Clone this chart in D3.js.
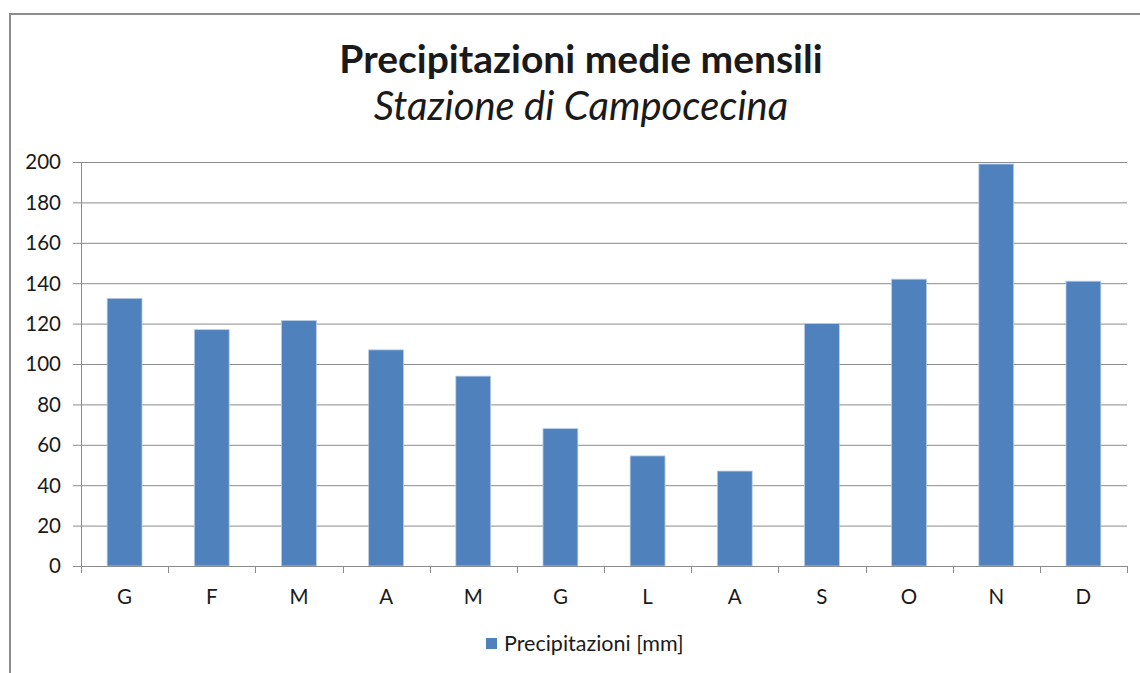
<!DOCTYPE html>
<html>
<head>
<meta charset="utf-8">
<script src="https://cdn.jsdelivr.net/npm/d3@7"></script>
<style>
  body { margin: 0; background: #fff; }
  text { font-family: Lato, "Open Sans", sans-serif; fill: #1a1a1a; }
</style>
</head>
<body>
<div id="chart"></div>
<script>
// months (Italian initials) and mean monthly rainfall in mm
const months = ["G", "F", "M", "A", "M", "G", "L", "A", "S", "O", "N", "D"]
const rain = [132.5, 117, 121.5, 107, 94, 68, 54.5, 47, 120, 142, 199, 141]
const yTicks = [0, 20, 40, 60, 80, 100, 120, 140, 160, 180, 200]
const seriesName = "Precipitazioni [mm]"

const width = 1140
const height = 673
const plotLeft = 81, plotRight = 1127, plotTop = 162, plotBottom = 566

const svg = d3.select("#chart").append("svg")
    .attr("width", width)
    .attr("height", height)

// outer chart frame (runs off the right/bottom edge like the original)
svg.append("rect")
    .attr("x", 10).attr("y", 14)
    .attr("width", 1200).attr("height", 700)
    .attr("fill", "none")
    .attr("stroke", "#8c8c8c")
    .attr("stroke-width", 2)

// index based band scale since month letters repeat
const x = d3.scaleBand()
    .domain(d3.range(months.length))
    .range([plotLeft, plotRight])
    .paddingInner(0.6)
    .paddingOuter(0.3)

const y = d3.scaleLinear()
    .domain([0, 200])
    .range([plotBottom, plotTop])

// gridlines
svg.append("g")
    .selectAll("line")
    .data(yTicks)
    .join("line")
    .attr("x1", plotLeft - 8).attr("x2", plotRight)
    .attr("y1", d => y(d) + 0.5).attr("y2", d => y(d) + 0.5)
    .attr("stroke", "#8c8c8c")

// y axis labels
svg.append("g")
    .selectAll("text")
    .data(yTicks)
    .join("text")
    .attr("x", plotLeft - 20)
    .attr("y", d => y(d))
    .attr("dy", "0.36em")
    .attr("text-anchor", "end")
    .attr("font-size", 20.5)
    .text(d => d)

// y axis line
svg.append("line")
    .attr("x1", plotLeft + 0.5).attr("x2", plotLeft + 0.5)
    .attr("y1", plotTop).attr("y2", plotBottom)
    .attr("stroke", "#8c8c8c")

// bars
svg.append("g")
    .selectAll("rect")
    .data(rain)
    .join("rect")
    .attr("x", (d, i) => x(i))
    .attr("y", d => y(d))
    .attr("width", x.bandwidth())
    .attr("height", d => y(0) - y(d))
    .attr("fill", "#4f81bd")
    .attr("stroke", "#b9cde5")
    .attr("stroke-width", 0.8)

// x axis line and tick marks between categories
const step = x.step()
svg.append("line")
    .attr("x1", plotLeft).attr("x2", plotRight)
    .attr("y1", plotBottom + 0.5).attr("y2", plotBottom + 0.5)
    .attr("stroke", "#8c8c8c")

svg.append("g")
    .selectAll("line")
    .data(d3.range(months.length + 1))
    .join("line")
    .attr("x1", i => Math.round(plotLeft + i * step) + 0.5)
    .attr("x2", i => Math.round(plotLeft + i * step) + 0.5)
    .attr("y1", plotBottom).attr("y2", plotBottom + 7)
    .attr("stroke", "#8c8c8c")

svg.append("g")
    .selectAll("text")
    .data(months)
    .join("text")
    .attr("x", (d, i) => x(i) + x.bandwidth() / 2)
    .attr("y", 604)
    .attr("text-anchor", "middle")
    .attr("font-size", 20.5)
    .text(d => d)

// titles
svg.append("text")
    .attr("x", 581).attr("y", 73)
    .attr("text-anchor", "middle")
    .attr("font-size", 39)
    .attr("font-weight", "bold")
    .attr("fill", "#000")
    .text("Precipitazioni medie mensili")

svg.append("text")
    .attr("x", 581).attr("y", 120)
    .attr("text-anchor", "middle")
    .attr("font-size", 40)
    .attr("font-style", "italic")
    .attr("fill", "#000")
    .text("Stazione di Campocecina")

// legend
svg.append("rect")
    .attr("x", 486).attr("y", 638)
    .attr("width", 11).attr("height", 11)
    .attr("fill", "#4f81bd")

svg.append("text")
    .attr("x", 504).attr("y", 651)
    .attr("font-size", 21.5)
    .text(seriesName)
</script>
</body>
</html>
